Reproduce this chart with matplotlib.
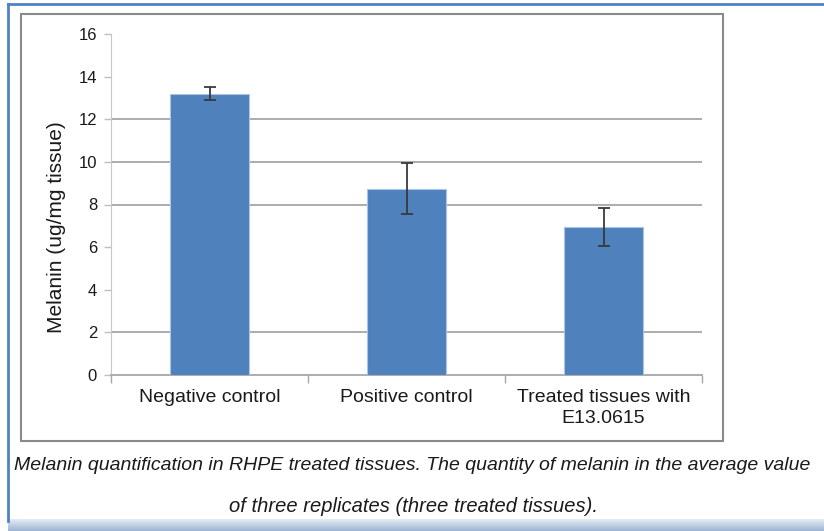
import matplotlib.pyplot as plt
import numpy as np
from matplotlib.patches import Rectangle
from matplotlib.lines import Line2D

categories = ['Negative control', 'Positive control', 'Treated tissues with\nE13.0615']
melanin = [13.2, 8.75, 6.95]
errors = [0.3, 1.2, 0.9]
yticks = [0, 2, 4, 6, 8, 10, 12, 14, 16]
grid_levels = [2, 8, 10, 12]
caption1 = 'Melanin quantification in RHPE treated tissues. The quantity of melanin in the average value'
caption2 = 'of three replicates (three treated tissues).'

W, H = 824, 531
plt.rcParams['font.family'] = ['Liberation Sans', 'DejaVu Sans']


def fx(x):
    return x / W


def fy(y):
    return 1 - y / H


fig = plt.figure(figsize=(W / 100, H / 100), dpi=100)

# outer blue frame (top and left) and bottom gradient band
fig.add_artist(Line2D([fx(8), 1], [fy(4), fy(4)], color='#4f81c7', lw=2))
fig.add_artist(Line2D([fx(8), fx(8)], [fy(4), fy(521)], color='#4f81c7', lw=2))
band = fig.add_axes([fx(8), 0, 1 - fx(8), 12 / H])
band.imshow(np.linspace(0, 1, 20).reshape(-1, 1), aspect='auto',
            cmap=plt.matplotlib.colors.LinearSegmentedColormap.from_list('b', ['#e3ebf4', '#9fb5d3']))
band.axis('off')

# chart box
fig.add_artist(Rectangle((fx(21), fy(441)), fx(723) - fx(21), fy(14) - fy(441),
                         fill=False, edgecolor='#8a8a8a', lw=1.5))

ax = fig.add_axes([fx(111), fy(375), fx(702) - fx(111), fy(34) - fy(375)])
x = np.arange(len(categories))
ax.bar(x, melanin, width=0.4, color='#4f81bd', edgecolor='#a9c4e6', lw=0.8, zorder=3)
ax.errorbar(x, melanin, yerr=errors, fmt='none', ecolor='#3a3a3a', elinewidth=1.3,
            capsize=4, capthick=1.3, zorder=4)

for g in grid_levels:
    ax.axhline(g, color='#a6a6a6', lw=1.3, zorder=1)

ax.set_xlim(-0.5, 2.5)
ax.set_ylim(0, 16)
ax.set_yticks(yticks)
ax.set_xticks(x)
ax.set_xticklabels(categories, fontsize=14, linespacing=1.35)
ax.set_xticks([-0.5, 0.5, 1.5, 2.5], minor=True)
ax.tick_params(axis='x', which='major', length=0, pad=10, colors='#1a1a1a')
ax.tick_params(axis='x', which='minor', length=6, color='#a6a6a6', width=1)
ax.tick_params(axis='y', length=5, width=1, labelsize=12, colors='#1a1a1a', pad=5)
ax.tick_params(axis='y', color='#bfbfbf')
for s in ['top', 'right']:
    ax.spines[s].set_visible(False)
ax.spines['left'].set_color('#c8c8c8')
ax.spines['bottom'].set_color('#a6a6a6')
ax.spines['bottom'].set_linewidth(1.3)

fig.text(fx(57), fy(227), 'Melanin (ug/mg tissue)', rotation=90, ha='center', va='center',
         fontsize=15, color='#1a1a1a')

fig.text(fx(412), fy(466), caption1, ha='center', va='center', style='italic',
         fontsize=14, color='#1a1a1a')
fig.text(fx(413), fy(506), caption2, ha='center', va='center', style='italic',
         fontsize=14.5, color='#1a1a1a')

fig.savefig('out.png', dpi=100)
